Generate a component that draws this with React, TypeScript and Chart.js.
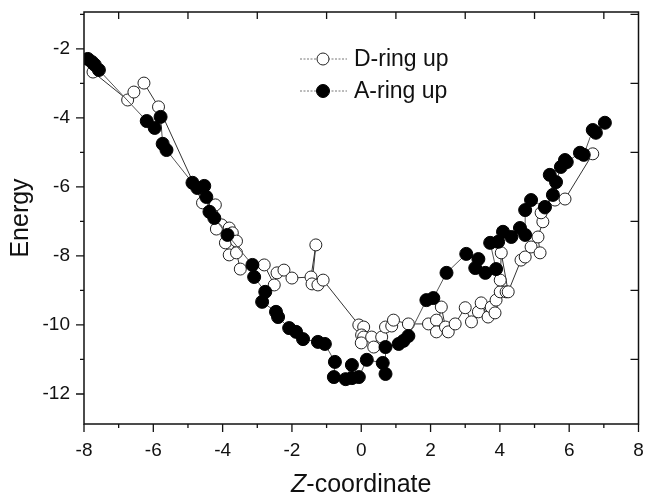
import { useEffect, useRef } from 'react';
import { Chart, registerables } from 'chart.js';

Chart.register(...registerables);

const seriesLabels = ['D-ring up', 'A-ring up'];

const dRingX = [-7.74,-6.74,-6.56,-6.27,-5.85,-4.58,-4.21,-4.03,-4.18,-3.81,-3.72,-3.92,-3.6,-3.81,-3.6,-3.49,-2.8,-2.51,-2.43,-2.23,-2.0,-1.45,-1.31,-1.42,-1.25,-1.1,-0.07,0.07,0.01,0.07,0.0,0.3,0.36,0.59,0.7,0.88,0.93,1.36,1.94,2.17,2.17,2.31,2.43,2.51,2.71,3.0,3.18,3.38,3.46,3.66,3.75,3.86,3.89,4.01,4.18,4.01,4.04,4.24,4.61,4.73,4.9,5.16,5.1,5.24,5.19,5.3,5.59,5.88,6.68];
const dRingY = [-2.67,-3.48,-3.25,-2.99,-3.68,-6.46,-6.52,-7.1,-7.22,-7.19,-7.33,-7.62,-7.57,-7.97,-7.91,-8.38,-8.26,-8.84,-8.49,-8.41,-8.64,-8.61,-7.68,-8.81,-8.84,-8.7,-10.0,-10.06,-10.29,-10.35,-10.52,-10.35,-10.64,-10.35,-10.06,-10.03,-9.86,-9.97,-9.97,-9.86,-10.2,-9.48,-10.06,-10.2,-9.97,-9.5,-9.91,-9.62,-9.36,-9.77,-9.48,-9.65,-9.28,-9.04,-9.04,-8.7,-7.91,-9.04,-8.12,-8.03,-7.74,-7.91,-7.45,-7.01,-6.75,-6.61,-6.38,-6.35,-5.04];

const aRingX = [-7.89,-7.77,-7.69,-7.57,-6.19,-5.96,-5.79,-5.73,-5.62,-4.87,-4.73,-4.53,-4.47,-4.38,-4.24,-3.86,-3.14,-3.09,-2.77,-2.86,-2.46,-2.4,-2.08,-1.88,-1.68,-1.25,-1.05,-0.76,-0.79,-0.45,-0.27,-0.27,-0.07,0.16,0.62,0.7,0.7,1.08,1.22,1.36,1.88,2.08,2.46,3.03,3.38,3.29,3.58,3.89,3.72,3.95,4.09,4.33,4.58,4.73,4.73,4.9,5.3,5.53,5.44,5.62,5.76,5.88,5.93,6.31,6.42,6.68,6.77,7.03];
const aRingY = [-2.29,-2.38,-2.46,-2.61,-4.09,-4.29,-3.97,-4.75,-4.93,-5.88,-6.03,-5.97,-6.29,-6.72,-6.9,-7.39,-8.26,-8.61,-9.04,-9.33,-9.62,-9.77,-10.09,-10.2,-10.41,-10.49,-10.55,-11.07,-11.51,-11.57,-11.16,-11.54,-11.51,-11.01,-11.1,-11.42,-10.64,-10.55,-10.46,-10.32,-9.28,-9.22,-8.49,-7.94,-8.09,-8.35,-8.49,-8.38,-7.62,-7.59,-7.3,-7.45,-7.19,-7.39,-6.67,-6.38,-6.58,-6.23,-5.65,-5.86,-5.42,-5.22,-5.28,-5.01,-5.07,-4.35,-4.43,-4.14];

const xTickValues = [-8, -6, -4, -2, 0, 2, 4, 6, 8];
const yTickValues = [-12, -10, -8, -6, -4, -2];

const FONT = '"Liberation Sans", Arial, Helvetica, sans-serif';

const decorPlugin = {
  id: 'decor',
  afterDraw(chart: any) {
    const { ctx, chartArea: a, scales } = chart;
    const xs = scales.x;
    const ys = scales.y;
    ctx.save();
    ctx.strokeStyle = '#111';
    ctx.lineWidth = 1.5;
    ctx.strokeRect(a.left, a.top, a.right - a.left, a.bottom - a.top);

    ctx.lineWidth = 1.3;
    ctx.beginPath();
    for (let v = Math.ceil(xs.min); v <= Math.floor(xs.max); v++) {
      const px = xs.getPixelForValue(v);
      const major = v % 2 === 0;
      ctx.moveTo(px, a.bottom);
      ctx.lineTo(px, a.bottom + (major ? 8 : 4));
      if (!major) {
        ctx.moveTo(px, a.top);
        ctx.lineTo(px, a.top + 7);
      }
    }
    for (let v = Math.ceil(ys.min); v <= Math.floor(ys.max); v++) {
      const py = ys.getPixelForValue(v);
      const major = v % 2 === 0;
      ctx.moveTo(a.left, py);
      ctx.lineTo(a.left - (major ? 8 : 4), py);
      if (!major) {
        ctx.moveTo(a.right, py);
        ctx.lineTo(a.right - 8, py);
      }
    }
    ctx.stroke();

    // x-axis title with italic Z
    const tfs = 25;
    const part1 = 'Z';
    const part2 = '-coordinate';
    ctx.fillStyle = '#111';
    ctx.textBaseline = 'middle';
    ctx.textAlign = 'left';
    ctx.font = `italic ${tfs}px ${FONT}`;
    const w1 = ctx.measureText(part1).width;
    ctx.font = `${tfs}px ${FONT}`;
    const w2 = ctx.measureText(part2).width;
    const cx = (a.left + a.right) / 2;
    const ty = a.bottom + 61;
    const sx = cx - (w1 + w2) / 2;
    ctx.font = `italic ${tfs}px ${FONT}`;
    ctx.fillText(part1, sx, ty);
    ctx.font = `${tfs}px ${FONT}`;
    ctx.fillText(part2, sx + w1, ty);

    // legend inside plot
    const datasets = chart.data.datasets;
    const lx = a.left + 216;
    const ly0 = a.top + 47;
    const gap = 32;
    seriesLabels.forEach((label, i) => {
      const ds = datasets.find((d: any) => d.label === label);
      if (!ds) return;
      const y = ly0 + i * gap;
      ctx.save();
      ctx.strokeStyle = '#777';
      ctx.lineWidth = 1;
      ctx.setLineDash([2, 1.5]);
      ctx.beginPath();
      ctx.moveTo(lx, y);
      ctx.lineTo(lx + 47, y);
      ctx.stroke();
      ctx.restore();
      ctx.beginPath();
      ctx.arc(lx + 23, y, ds.pointRadius, 0, Math.PI * 2);
      ctx.fillStyle = ds.pointBackgroundColor;
      ctx.fill();
      ctx.lineWidth = ds.pointBorderWidth;
      ctx.strokeStyle = ds.pointBorderColor;
      ctx.stroke();
      ctx.fillStyle = '#111';
      ctx.font = `23px ${FONT}`;
      ctx.textAlign = 'left';
      ctx.textBaseline = 'middle';
      ctx.fillText(label, lx + 54, y + 1);
    });
    ctx.restore();
  },
};

export default function App() {
  const canvasRef = useRef<HTMLCanvasElement | null>(null);

  useEffect(() => {
    document.body.style.margin = '0';
    const canvas = canvasRef.current;
    if (!canvas) return;
    const dData = dRingX.map((x, i) => ({ x, y: dRingY[i] }));
    const aData = aRingX.map((x, i) => ({ x, y: aRingY[i] }));
    const chart = new Chart(canvas, {
      type: 'scatter',
      data: {
        datasets: [
          {
            label: seriesLabels[1],
            data: aData,
            showLine: true,
            borderColor: '#555',
            borderWidth: 1,
            pointRadius: 6.5,
            pointBackgroundColor: '#000',
            pointBorderColor: '#000',
            pointBorderWidth: 1,
            order: 0,
          },
          {
            label: seriesLabels[0],
            data: dData,
            showLine: true,
            borderColor: '#333',
            borderWidth: 1,
            pointRadius: 6,
            pointBackgroundColor: '#fff',
            pointBorderColor: '#222',
            pointBorderWidth: 1,
            order: 1,
          },
        ],
      },
      options: {
        animation: false,
        responsive: true,
        maintainAspectRatio: false,
        layout: { padding: { top: 12, right: 5, left: 0, bottom: 0 } },
        plugins: {
          legend: { display: false },
          tooltip: { enabled: false },
        },
        scales: {
          x: {
            type: 'linear',
            min: -8,
            max: 8,
            afterBuildTicks: (scale: any) => {
              scale.ticks = xTickValues.map((v) => ({ value: v }));
            },
            afterFit: (scale: any) => {
              scale.height = 73;
              scale.paddingLeft = 0;
              scale.paddingRight = 0;
            },
            grid: { display: false, drawTicks: false },
            border: { display: false },
            ticks: {
              padding: 15,
              color: '#111',
              font: { family: FONT, size: 19 },
              maxRotation: 0,
              autoSkip: false,
            },
          },
          y: {
            type: 'linear',
            min: -12.87,
            max: -0.93,
            afterBuildTicks: (scale: any) => {
              scale.ticks = yTickValues.map((v) => ({ value: v }));
            },
            afterFit: (scale: any) => {
              scale.width = 84;
              scale.paddingTop = 0;
              scale.paddingBottom = 0;
            },
            grid: { display: false, drawTicks: false },
            border: { display: false },
            ticks: {
              padding: 14,
              color: '#111',
              font: { family: FONT, size: 19 },
              autoSkip: false,
            },
            title: {
              display: true,
              text: 'Energy',
              color: '#111',
              font: { family: FONT, size: 25, lineHeight: 1.2 },
              padding: { top: 6, bottom: 0 },
            },
          },
        },
      },
      plugins: [decorPlugin],
    });
    return () => chart.destroy();
  }, []);

  return (
    <div style={{ width: '646px', height: '497px', position: 'relative' }}>
      <canvas ref={canvasRef} />
    </div>
  );
}
